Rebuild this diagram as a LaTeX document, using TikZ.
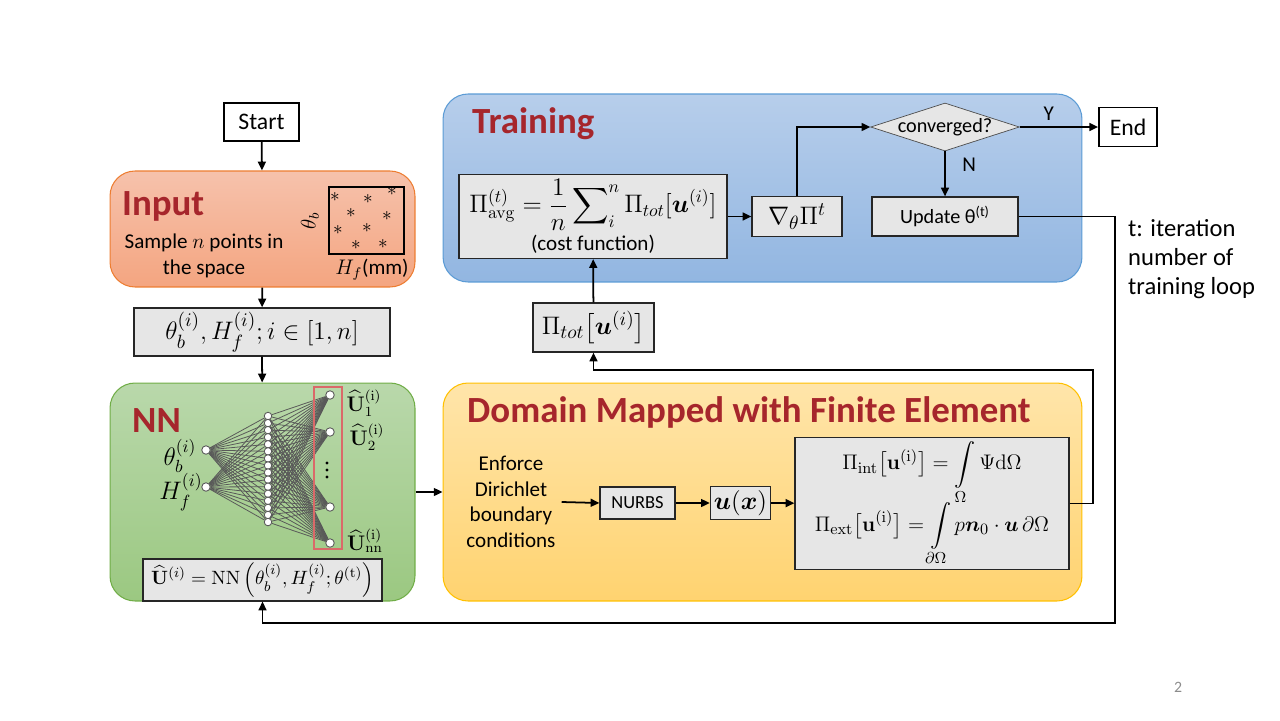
\documentclass[tikz,border=0pt]{standalone}
\usepackage{amsmath}
\usepackage[no-math]{fontspec}
\setmainfont{Carlito}
\usepackage{xcolor}
\usepackage{tikz}
\usetikzlibrary{shapes.geometric, arrows.meta, positioning, calc}
\definecolor{mytitle}{RGB}{166,38,44}
\definecolor{mybox}{RGB}{230,230,230}
\definecolor{inptop}{RGB}{246,194,172}
\definecolor{inpbot}{RGB}{244,165,128}
\definecolor{inpedge}{RGB}{237,125,49}
\definecolor{nntop}{RGB}{185,216,171}
\definecolor{nnbot}{RGB}{155,200,129}
\definecolor{nnedge}{RGB}{112,173,71}
\definecolor{trtop}{RGB}{183,206,235}
\definecolor{trbot}{RGB}{146,182,225}
\definecolor{tredge}{RGB}{91,155,213}
\definecolor{fetop}{RGB}{255,229,170}
\definecolor{febot}{RGB}{255,211,112}
\definecolor{feedge}{RGB}{255,192,0}
\definecolor{mywire}{RGB}{89,89,89}
\definecolor{myframe}{RGB}{218,105,105}
\tikzset{
  panel/.style={rectangle, rounded corners=0.5cm, line width=0.6pt},
  graybox/.style={rectangle, draw=black!85, fill=mybox, line width=0.7pt,
    align=center, inner sep=2pt},
  termbox/.style={rectangle, draw=black, fill=white, line width=1pt,
    font=\fontsize{13.5}{16}\selectfont},
  paneltitle/.style={anchor=west, text=mytitle,
    font=\bfseries\fontsize{21}{24}\selectfont},
  neuron/.style={circle, draw=mywire, fill=white, inner sep=0pt,
    minimum size=0.17cm, line width=0.5pt},
  arrow/.style={-{Triangle[length=5pt,width=4.5pt]}, line width=1pt, color=black},
  wire/.style={mywire, line width=0.45pt}
}

\begin{document}
\begin{tikzpicture}[x=0.02cm, y=-0.02cm, font=\fontsize{12}{14.5}\selectfont, >=Stealth]
  \useasboundingbox (0,0) rectangle (1280,720);

  % Panels
  \node[panel, draw=tredge, top color=trtop, bottom color=trbot,
    minimum width=12.78cm, minimum height=3.76cm] (train) at (762.5,188) {};
  \node[panel, draw=inpedge, top color=inptop, bottom color=inpbot,
    minimum width=6.1cm, minimum height=2.32cm] (input) at (262.5,229) {};
  \node[panel, draw=nnedge, top color=nntop, bottom color=nnbot,
    minimum width=6.1cm, minimum height=4.36cm] (nn) at (262.5,492) {};
  \node[panel, draw=feedge, top color=fetop, bottom color=febot,
    minimum width=12.78cm, minimum height=4.36cm] (dom) at (762.5,492) {};

  \node[paneltitle] (ttrain) at (466,124) {Training};
  \node[paneltitle] (tinput) at (116,206) {Input};
  \node[paneltitle] (tnn) at (126,421) {NN};
  \node[paneltitle] (tdom) at (461,412) {Domain Mapped with Finite Element};

  % Start and sampling
  \node[termbox, minimum width=1.5cm, minimum height=0.76cm] (start) at (261.5,122) {Start};
  \node[align=center] (sample) at (204,256) {Sample $n$ points in\\the space};

  % Sample space plot
  \node[draw=black, line width=0.8pt, minimum width=1.5cm, minimum height=1.34cm] (plot) at (366.5,220.5) {};
  \foreach \px/\py [count=\i] in {335/197, 368/199, 392/191, 351/213, 387/216, 338/230, 367/228, 356/245, 383/244}
    \node[inner sep=0pt, font=\fontsize{11}{11}\selectfont] (star\i) at (\px,\py) {$\ast$};
  \node[rotate=90] (thlab) at (310,221) {$\theta_b$};
  \node (hflab) at (372,270) {$H_f$(mm)};

  \node[graybox, minimum width=5.12cm, minimum height=0.96cm,
    font=\fontsize{15}{18}\selectfont] (samp) at (262,332)
    {$\theta_b^{(i)}, H_f^{(i)}; i \in [1,n]$};

  % Network
  \node[neuron] (in1) at (206,450) {};
  \node[neuron] (in2) at (206,487) {};
  \foreach \j in {1,...,16}
    \node[neuron, minimum size=0.15cm] (h\j) at (268,{416+(\j-1)*7.07}) {};
  \foreach \k [count=\j] in {395,432,507,543}
    \node[neuron] (o\j) at (330,\k) {};
  \foreach \i in {1,2}
    \foreach \j in {1,...,16}
      \draw[wire] (in\i) -- (h\j);
  \foreach \j in {1,...,16}
    \foreach \k in {1,...,4}
      \draw[wire] (h\j) -- (o\k);
  \foreach \dy in {463,470,477}
    \fill (327,\dy) circle (1.6);
  \node[draw=myframe, line width=1pt, inner sep=0pt, minimum width=0.56cm, minimum height=3.24cm] (outframe) at (328,468) {};

  \node[font=\fontsize{14}{16}\selectfont] (lthb) at (180,456) {$\theta_b^{(i)}$};
  \node[font=\fontsize{14}{16}\selectfont] (lhf) at (181,492) {$H_f^{(i)}$};
  \node[inner sep=0pt] (lo1) at (364,403) {$\widehat{\mathbf{U}}_1^{(\mathrm{i})}$};
  \node[inner sep=0pt] (lo2) at (367,437) {$\widehat{\mathbf{U}}_2^{(\mathrm{i})}$};
  \node[inner sep=0pt] (lo3) at (365,541) {$\widehat{\mathbf{U}}_{\mathrm{nn}}^{(\mathrm{i})}$};

  \node[graybox, minimum width=4.78cm, minimum height=0.84cm,
    font=\fontsize{11}{13}\selectfont] (nnform) at (262.5,580)
    {$\widehat{\mathbf{U}}^{(i)} = \mathrm{NN}\left(\theta_b^{(i)}, H_f^{(i)}; \theta^{(\mathrm{t})}\right)$};

  % Finite element part
  \node[align=center] (enf) at (511,502) {Enforce\\Dirichlet\\boundary\\conditions};
  \node[graybox, minimum width=1.5cm, minimum height=0.64cm,
    font=\fontsize{10.5}{12}\selectfont] (nurbs) at (637.5,503) {NURBS};
  \node[graybox, minimum width=1.18cm, minimum height=0.62cm,
    font=\fontsize{14}{16}\selectfont] (ux) at (740.5,503) {$\boldsymbol{u}(\boldsymbol{x})$};
  \node[graybox, minimum width=5.48cm, minimum height=2.58cm,
    font=\fontsize{12.5}{15}\selectfont] (fe) at (932,503.5)
    {$\displaystyle\Pi_{\mathrm{int}}\big[\mathbf{u}^{(\mathrm{i})}\big] = \int\limits_{\Omega} \Psi \mathrm{d}\Omega$\\[-2pt]
     $\displaystyle\Pi_{\mathrm{ext}}\big[\mathbf{u}^{(\mathrm{i})}\big] = \int\limits_{\partial\Omega} p\boldsymbol{n}_0 \cdot \boldsymbol{u}\,\partial\Omega$};

  \node[graybox, minimum width=2.42cm, minimum height=0.98cm,
    font=\fontsize{15}{18}\selectfont] (tot) at (593.5,327.5)
    {$\Pi_{tot}\big[\boldsymbol{u}^{(i)}\big]$};

  % Training loop
  \node[graybox, minimum width=5.36cm, minimum height=1.68cm] (cost) at (593,216.5)
    {{\fontsize{14.5}{16}\selectfont$\displaystyle \Pi_{\mathrm{avg}}^{(t)} = \frac{1}{n}\sum\nolimits_i^n \Pi_{tot}[\boldsymbol{u}^{(i)}]$}\\[2pt](cost function)};
  \node[graybox, minimum width=1.8cm, minimum height=0.8cm,
    font=\fontsize{15}{18}\selectfont] (grad) at (797,216.5) {$\nabla_\theta \Pi^t$};
  \node[diamond, draw=black!70, fill=mybox, aspect=3.1, inner sep=0pt,
    minimum width=2.92cm, minimum height=0.96cm,
    font=\fontsize{11.5}{13}\selectfont] (conv) at (945,127) {converged?};
  \node[graybox, minimum width=2.92cm, minimum height=0.78cm,
    font=\fontsize{11.5}{13}\selectfont] (upd) at (945,216.5) {Update θ\textsuperscript{(t)}};
  \node[termbox, minimum width=1.16cm, minimum height=0.78cm] (endb) at (1128,127) {End};

  \node[anchor=west, align=left, font=\fontsize{14}{16.5}\selectfont] (tnote) at (1122,259)
    {t: iteration\\number of\\training loop};
  \node[text=black!45, font=\fontsize{9}{10}\selectfont] (pagenum) at (1178,687) {2};

  \coordinate (loopA) at (1093,370);
  \coordinate (loopB) at (1115,623);

  % Connectors
  \draw[arrow] (start) -- (input);
  \draw[arrow] (input) -- (samp);
  \draw[arrow] (samp) -- (nn);
  \draw[arrow] (nn) -- (dom);
  \draw[arrow] (enf.east) -- (nurbs.west);
  \draw[arrow] (nurbs) -- (ux);
  \draw[arrow] (ux) -- (fe);
  \draw[arrow] (fe.east) -| (loopA) -| (tot.south);
  \draw[arrow] (tot) -- (cost);
  \draw[arrow] (cost) -- (grad);
  \draw[arrow] (grad.north) |- (conv.west);
  \draw[arrow] (conv.east) -- node[above, pos=0.37] {Y} (endb);
  \draw[arrow] (conv.south) -- node[right=6pt, pos=0.3] {N} (upd.north);
  \draw[arrow] (upd.east) -| (loopB) -| (nn.south);
\end{tikzpicture}
\end{document}
